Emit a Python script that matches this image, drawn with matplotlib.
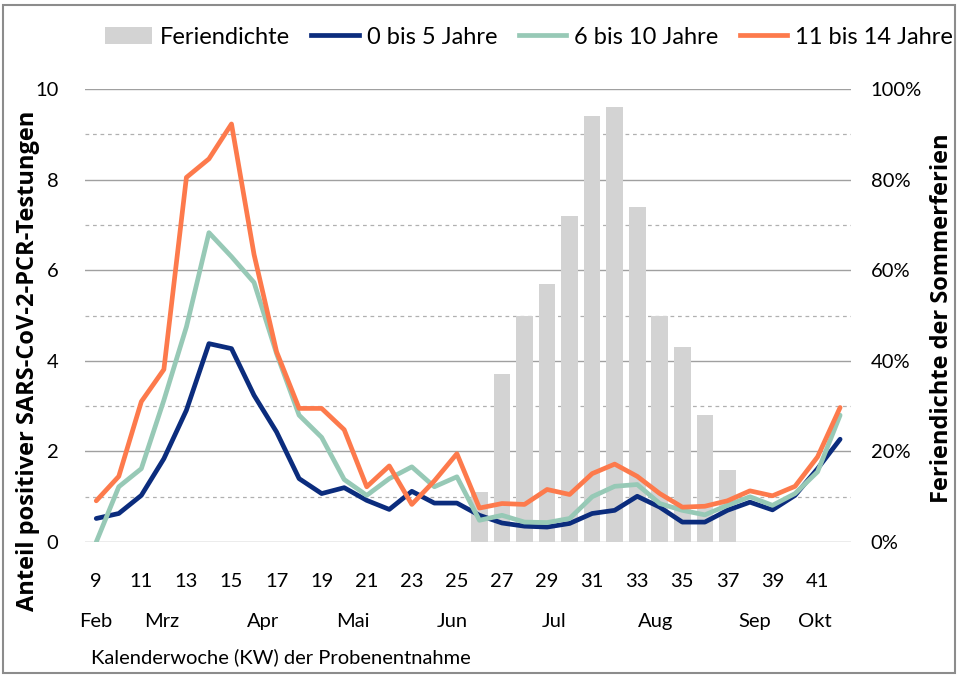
import numpy as np
import matplotlib
matplotlib.use("Agg")
import matplotlib.pyplot as plt
from matplotlib.patches import Patch, Rectangle
from matplotlib.lines import Line2D

plt.rcParams['font.family'] = ['Lato', 'DejaVu Sans']

# Kalenderwochen
weeks = list(range(9, 43))

# Anteil positiver Testungen (%)
age_0_5 = [0.52, 0.63, 1.03, 1.84, 2.91, 4.38, 4.27, 3.24, 2.43, 1.40, 1.07, 1.20,
           0.92, 0.72, 1.12, 0.86, 0.86, 0.59, 0.42, 0.35, 0.33, 0.41, 0.63, 0.70,
           1.01, 0.77, 0.44, 0.44, 0.70, 0.88, 0.71, 1.03, 1.62, 2.27]
age_6_10 = [0.00, 1.22, 1.62, 3.13, 4.75, 6.83, 6.30, 5.73, 4.16, 2.80, 2.31, 1.38,
            1.03, 1.40, 1.66, 1.22, 1.44, 0.48, 0.59, 0.44, 0.43, 0.52, 1.00, 1.23,
            1.27, 0.85, 0.70, 0.60, 0.81, 1.00, 0.81, 1.07, 1.55, 2.80]
age_11_14 = [0.91, 1.45, 3.10, 3.81, 8.05, 8.46, 9.23, 6.35, 4.20, 2.95, 2.95, 2.48,
             1.22, 1.68, 0.83, 1.35, 1.95, 0.75, 0.85, 0.83, 1.16, 1.05, 1.51, 1.72,
             1.45, 1.07, 0.77, 0.79, 0.91, 1.13, 1.02, 1.23, 1.88, 2.97]

# Feriendichte der Sommerferien (%)
holiday_weeks = list(range(26, 38))
holiday_density = [11, 37, 50, 57, 72, 94, 96, 74, 50, 43, 28, 16]

# Monatsbeschriftung (Position in KW)
months = ['Feb', 'Mrz', 'Apr', 'Mai', 'Jun', 'Jul', 'Aug', 'Sep', 'Okt']
month_pos = [9.0, 11.9, 16.4, 20.4, 24.8, 29.3, 33.8, 38.2, 40.9]

c_navy = '#0b2c7d'
c_green = '#97c9b6'
c_orange = '#fd7a4c'
c_bar = '#d3d3d3'

fig = plt.figure(figsize=(9.58, 6.75), dpi=100)
ax = fig.add_axes([0.0887, 0.197, 0.8, 0.671])
ax2 = ax.twinx()

# Balken auf der rechten Achse, Linien davor
ax2.bar(holiday_weeks, holiday_density, width=0.74, color=c_bar, zorder=1)
ax.set_zorder(ax2.get_zorder() + 1)
ax.patch.set_visible(False)

lw = 3.4
ax.plot(weeks, age_0_5, color=c_navy, linewidth=lw, solid_capstyle='round', zorder=3)
ax.plot(weeks, age_6_10, color=c_green, linewidth=lw, solid_capstyle='round', zorder=3)
ax.plot(weeks, age_11_14, color=c_orange, linewidth=lw, solid_capstyle='round', zorder=4)

# Gitterlinien
for v in range(0, 11):
    if v % 2 == 0:
        ax2.axhline(v * 10, color='#a0a0a0', linewidth=1.0, zorder=0)
    else:
        ax2.axhline(v * 10, color='#b0b0b0', linewidth=0.9, linestyle=(0, (3, 3)), zorder=0)

ax.set_xlim(8.5, 42.5)
ax.set_ylim(0, 10)
ax2.set_ylim(0, 100)

ax.set_yticks(range(0, 11, 2))
ax2.set_yticks(range(0, 101, 20))
ax2.set_yticklabels([f'{v}%' for v in range(0, 101, 20)])
ax.set_xticks(range(9, 43, 2))

for a in (ax, ax2):
    for s in a.spines.values():
        s.set_visible(False)
    a.tick_params(length=0, labelsize=14.5)
ax.tick_params(axis='x', pad=22)
ax.tick_params(axis='y', pad=19)
ax2.tick_params(axis='y', pad=14)

ax.set_ylabel('Anteil positiver SARS-CoV-2-PCR-Testungen', fontsize=17,
              fontweight='bold', family=['Open Sans', 'DejaVu Sans'])
ax.yaxis.set_label_coords(-0.059, 0.40)
ax2.set_ylabel('Feriendichte der Sommerferien', fontsize=17,
               fontweight='bold', family=['Open Sans', 'DejaVu Sans'])
ax2.yaxis.set_label_coords(1.103, 0.495)

for m, p in zip(months, month_pos):
    ax.text(p, -1.75, m, ha='center', va='center', fontsize=14.5)
ax.text(8.75, -2.55, 'Kalenderwoche (KW) der Probenentnahme', ha='left',
        va='center', fontsize=14.5)

handles = [Patch(facecolor=c_bar, edgecolor='none'),
           Line2D([], [], color=c_navy, linewidth=lw),
           Line2D([], [], color=c_green, linewidth=lw),
           Line2D([], [], color=c_orange, linewidth=lw)]
labels = ['Feriendichte', '0 bis 5 Jahre', '6 bis 10 Jahre', '11 bis 14 Jahre']
fig.legend(handles, labels, loc='center', bbox_to_anchor=(0.552, 0.945), ncol=4,
           frameon=False, fontsize=17, handlelength=2.0, handletextpad=0.35,
           columnspacing=0.9)

# Rahmen um die Grafik
fig.patches.append(Rectangle((0.003, 0.003), 0.994, 0.99, transform=fig.transFigure,
                             fill=False, edgecolor='#8c8c8c', linewidth=1.5))

fig.savefig('out.png', dpi=100)
